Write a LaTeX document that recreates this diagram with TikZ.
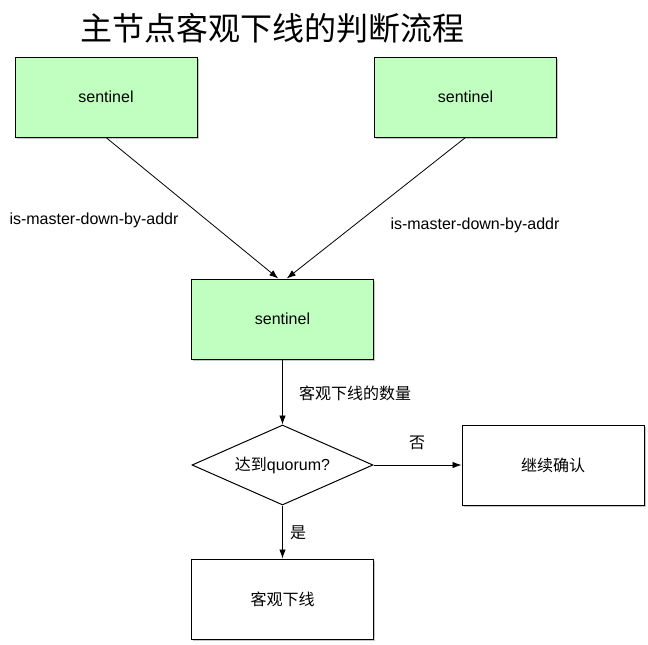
\documentclass[tikz,border=0pt]{standalone}
\usepackage{fontspec}
\setmainfont{Liberation Sans}
\newfontfamily\cjk{Noto Sans CJK SC}
\usetikzlibrary{shapes.geometric,shadows,arrows.meta}
\definecolor{sentgreen}{RGB}{192,255,192}
\newcommand{\txtsize}{\fontsize{16pt}{19pt}\selectfont}
\newcommand{\mytitle}{\fontsize{32pt}{38pt}\selectfont\cjk}

\begin{document}
\begin{tikzpicture}[x=1pt,y=-1pt,
  box/.style={draw, line width=1pt, minimum width=182pt, minimum height=80pt,
    inner sep=0pt, font=\txtsize,
    drop shadow={shadow xshift=1.5pt, shadow yshift=-2pt, opacity=0.45}},
  sent/.style={box, fill=sentgreen},
  plain/.style={box, fill=white},
  decide/.style={draw, diamond, aspect=2.26, line width=1pt, fill=white,
    minimum width=181pt, minimum height=80pt, inner sep=0pt, font=\txtsize},
  lbl/.style={font=\txtsize, inner sep=0pt},
  flow/.style={line width=0.8pt, -{Latex[length=9pt,width=6.5pt]}}]

 \useasboundingbox (0,0) rectangle (648,645);

 \node[lbl] (title) at (272.5,28) {\mytitle 主节点客观下线的判断流程};

 \node[sent] (s1) at (106,97) {sentinel};
 \node[sent] (s2) at (465.5,97) {sentinel};
 \node[sent] (s3) at (282.5,319) {sentinel};
 \node[decide] (q) at (282.5,465) {{\cjk 达到}quorum?};
 \node[plain] (go) at (553,465) {\cjk 继续确认};
 \node[plain] (down) at (282.5,599) {\cjk 客观下线};

   \draw[flow] (s1.south) -- (s3.96);
   \draw[flow] (s2.south) -- (s3.84);
   \draw[flow] (s3.south) -- (q.north);
   \draw[flow] (q.east) -- (go.west);
   \draw[flow] (q.south) -- (down.north);

   \node[lbl] (addrL) at (94,220) {is-master-down-by-addr};
   \node[lbl] (addrR) at (475,225) {is-master-down-by-addr};
   \node[lbl] (count) at (355,393) {\cjk 客观下线的数量};
   \node[lbl] (no) at (417,443) {\cjk 否};
   \node[lbl] (yes) at (298,533) {\cjk 是};

\end{tikzpicture}
\end{document}
